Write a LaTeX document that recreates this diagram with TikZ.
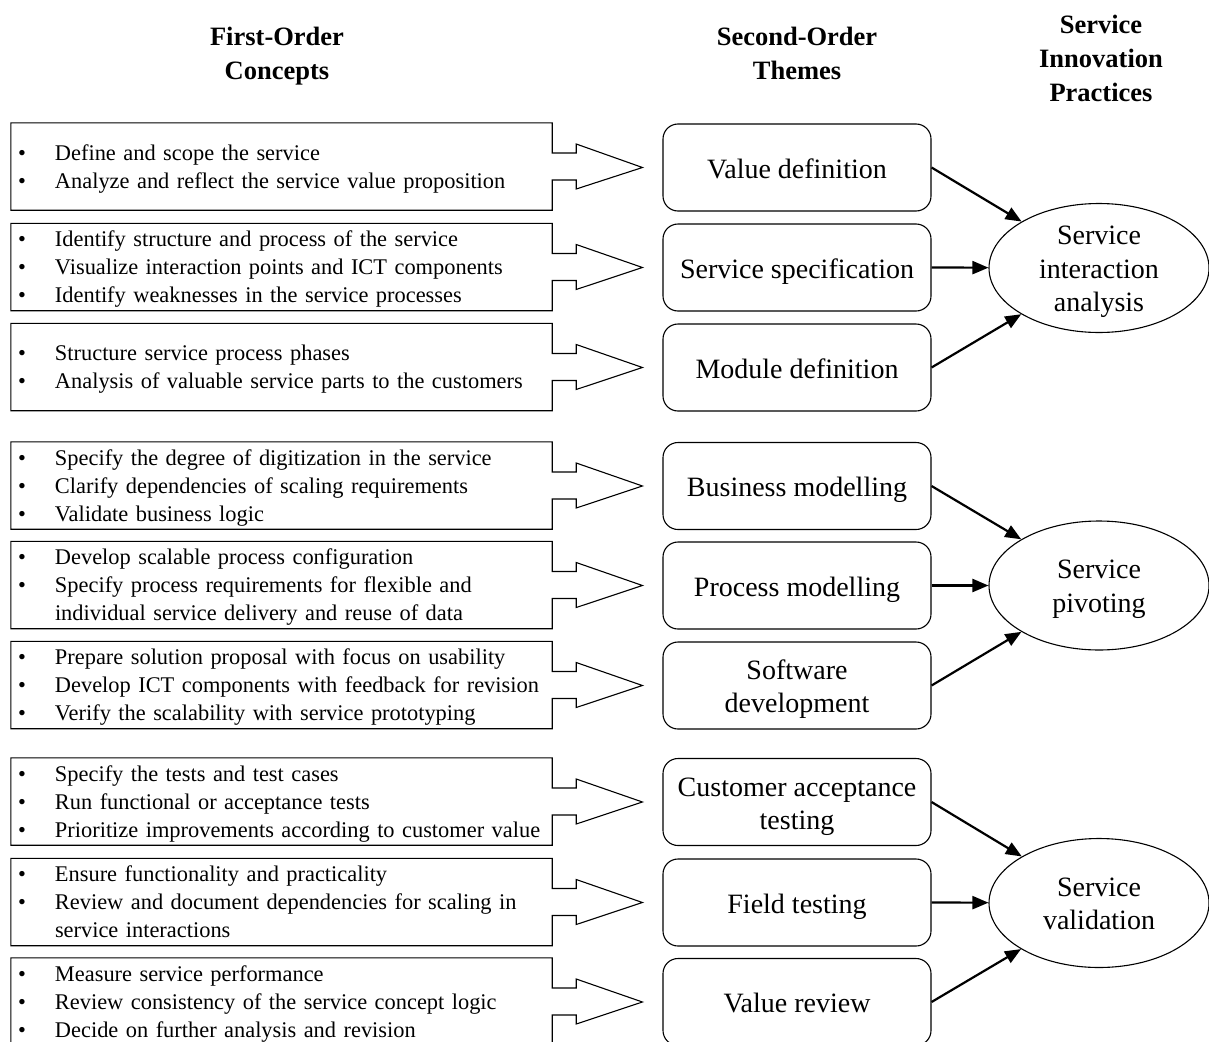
\documentclass[tikz,border=0pt]{standalone}
\usepackage{fontspec}
\setmainfont{Liberation Serif}
\usetikzlibrary{arrows.meta,calc,shapes.geometric}
\setlength{\lineskiplimit}{-100pt}
\setlength{\normallineskiplimit}{-100pt}
\newcommand{\fobul}[1]{\mbox{\rule[-6.25pt]{0pt}{28pt}\makebox[37pt][l]{\textbullet}#1}}
\newcommand{\focont}[1]{\mbox{\rule[-6.25pt]{0pt}{28pt}\hspace*{37pt}#1}}
\newcommand{\tstrut}{\rule[-5.75pt]{0pt}{33pt}}
\newcommand{\estrut}{\rule[-6.75pt]{0pt}{33.5pt}}
\begin{document}
\begin{tikzpicture}[x=1pt,y=-1pt,
 concept/.style={minimum width=541pt, minimum height=87pt, text width=527pt, inner xsep=7pt, inner ysep=0pt, align=left, font=\fontsize{22.4}{28}\selectfont},
 theme/.style={draw, rounded corners=15pt, minimum width=268pt, minimum height=87pt, inner sep=0pt, align=center, font=\fontsize{28}{33}\selectfont, line width=1.1pt},
 practice/.style={draw, ellipse, minimum width=220pt, minimum height=129pt, inner sep=-12pt, align=center, font=\fontsize{28}{33.5}\selectfont, line width=1.1pt},
 head/.style={align=center, font=\bfseries\fontsize{26.5}{34}\selectfont},
 bigarrow/.style={draw, line width=1.1pt, line join=miter},
 conn/.style={line width=2.2pt, -{Triangle[length=16pt,width=13pt]}}]
\useasboundingbox[fill=white] (0,0) rectangle (1209,1041);

% headers
\node[head] (h1) at (277,55.5) {\strut First-Order\\Concepts\strut};
\node[head] (h2) at (797,55.5) {\strut Second-Order\\Themes\strut};
\node[head] (h3) at (1101,60.5) {\strut Service\\Innovation\\Practices\strut};

% first-order concepts
\node[concept] (L1) at (281.5,166.5) {\fobul{Define and scope the service}\\\fobul{Analyze and reflect the service value proposition}};
\node[concept] (L2) at (281.5,267) {\fobul{Identify structure and process of the service}\\\fobul{Visualize interaction points and ICT components}\\\fobul{Identify weaknesses in the service processes}};
\node[concept] (L3) at (281.5,367) {\fobul{Structure service process phases}\\\fobul{Analysis of valuable service parts to the customers}};
\node[concept] (L4) at (281.5,485.5) {\fobul{Specify the degree of digitization in the service}\\\fobul{Clarify dependencies of scaling requirements}\\\fobul{Validate business logic}};
\node[concept] (L5) at (281.5,585) {\fobul{Develop scalable process configuration}\\\fobul{Specify process requirements for flexible and}\\\focont{individual service delivery and reuse of data}};
\node[concept] (L6) at (281.5,685) {\fobul{Prepare solution proposal with focus on usability}\\\fobul{Develop ICT components with feedback for revision}\\\fobul{Verify the scalability with service prototyping}};
\node[concept] (L7) at (281.5,801.5) {\fobul{Specify the tests and test cases}\\\fobul{Run functional or acceptance tests}\\\fobul{Prioritize improvements according to customer value}};
\node[concept] (L8) at (281.5,902) {\fobul{Ensure functionality and practicality}\\\fobul{Review and document dependencies for scaling in}\\\focont{service interactions}};
\node[concept] (L9) at (281.5,1001.5) {\fobul{Measure service performance}\\\fobul{Review consistency of the service concept logic}\\\fobul{Decide on further analysis and revision}};

% second-order themes
\node[theme] (T1) at (797,167.5) {\tstrut Value definition};
\node[theme] (T2) at (797,267.5) {\tstrut Service specification};
\node[theme] (T3) at (797,367.5) {\tstrut Module definition};
\node[theme] (T4) at (797,486) {\tstrut Business modelling};
\node[theme] (T5) at (797,585.5) {\tstrut Process modelling};
\node[theme] (T6) at (797,685.5) {\tstrut Software\\\tstrut development};
\node[theme] (T7) at (797,802) {\tstrut Customer acceptance\\\tstrut testing};
\node[theme] (T8) at (797,902.5) {\tstrut Field testing};
\node[theme] (T9) at (797,1002) {\tstrut Value review};

% practices
\node[practice] (E1) at (1099,268) {\estrut Service\\\estrut interaction\\\estrut analysis};
\node[practice] (E2) at (1099,585.5) {\estrut Service\\\estrut pivoting};
\node[practice] (E3) at (1099,903) {\estrut Service\\\estrut validation};

% box + block arrow outlines
\foreach \i in {1,...,9}{
  \draw[bigarrow] ($(L\i.east)+(0,-13.5)$) -- (L\i.north east) -- (L\i.north west) -- (L\i.south west) -- (L\i.south east)
    -- ($(L\i.east)+(0,13.5)$) -- ++(24,0) -- ++(0,9) -- ($(T\i.west)+(-20,0)$)
    -- ($(L\i.east)+(24,-22.5)$) -- ++(0,9) -- cycle;
}

% connectors
\draw[conn] (T1.east) -- (E1);
\draw[conn] (T2.east) -- (E1);
\draw[conn] (T3.east) -- (E1);
\draw[conn] (T4.east) -- (E2);
\draw[conn] (T5.east) -- (E2);
\draw[conn] (T6.east) -- (E2);
\draw[conn] (T7.east) -- (E3);
\draw[conn] (T8.east) -- (E3);
\draw[conn] (T9.east) -- (E3);
\end{tikzpicture}
\end{document}
